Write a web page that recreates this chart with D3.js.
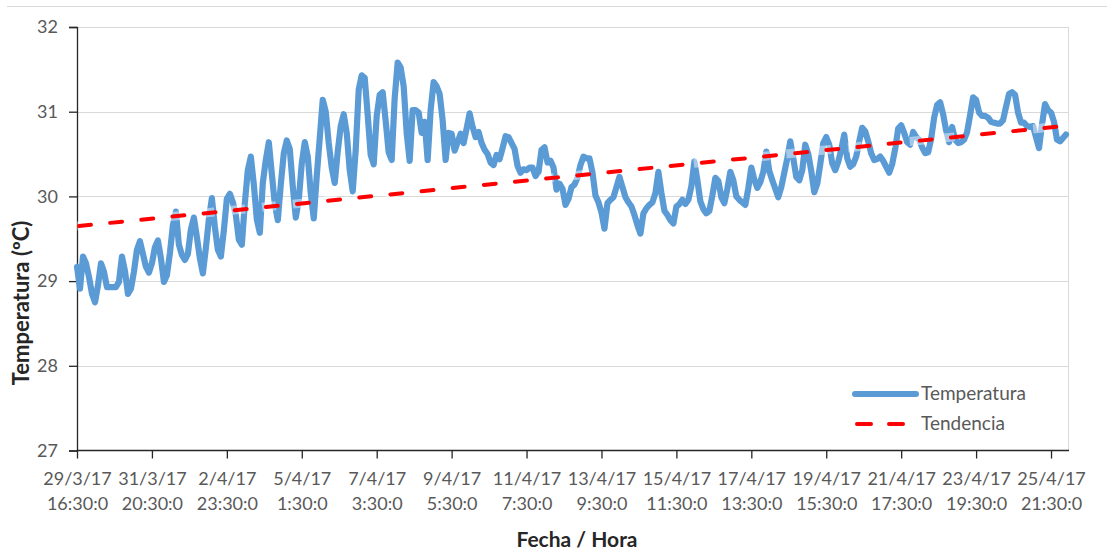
<!DOCTYPE html>
<html>
<head>
<meta charset="utf-8">
<script src="https://cdn.jsdelivr.net/npm/d3@7"></script>
<style>
  html, body { margin: 0; padding: 0; background: #fff; }
  svg { display: block; }
  text { font-family: Lato, "Open Sans", sans-serif; }
</style>
</head>
<body>
<svg id="chart" width="1107" height="552"></svg>
<script>
// Registered temperatures (ºC), one reading every step of the category axis
const temperatures = [
  29.17, 28.91, 29.29, 29.21, 29.05, 28.85, 28.75, 28.95, 29.21, 29.11,
  28.93, 28.93, 28.93, 28.93, 28.99, 29.29, 29.12, 28.85, 28.91, 29.11,
  29.37, 29.47, 29.32, 29.17, 29.10, 29.21, 29.40, 29.48, 29.27, 28.99,
  29.07, 29.33, 29.66, 29.82, 29.43, 29.31, 29.25, 29.32, 29.61, 29.75,
  29.52, 29.27, 29.09, 29.39, 29.73, 29.98, 29.64, 29.37, 29.29, 29.60,
  29.97, 30.03, 29.93, 29.78, 29.49, 29.43, 29.92, 30.31, 30.47, 30.14,
  29.73, 29.57, 30.16, 30.43, 30.64, 30.27, 29.91, 29.72, 30.14, 30.51,
  30.66, 30.56, 30.12, 29.75, 29.96, 30.39, 30.64, 30.47, 30.04, 29.74,
  30.24, 30.69, 31.14, 31.00, 30.63, 30.34, 30.16, 30.53, 30.83, 30.97,
  30.75, 30.31, 30.06, 30.55, 31.26, 31.43, 31.40, 30.96, 30.49, 30.38,
  30.95, 31.20, 31.23, 30.89, 30.52, 30.43, 31.16, 31.58, 31.52, 31.30,
  30.75, 30.42, 31.02, 31.02, 30.99, 30.75, 30.88, 30.43, 31.02, 31.35,
  31.30, 31.21, 30.90, 30.43, 30.75, 30.74, 30.54, 30.64, 30.74, 30.63,
  30.80, 30.98, 30.82, 30.70, 30.76, 30.63, 30.55, 30.50, 30.40, 30.37,
  30.49, 30.44, 30.57, 30.71, 30.70, 30.63, 30.56, 30.36, 30.28, 30.32,
  30.31, 30.34, 30.34, 30.24, 30.29, 30.55, 30.58, 30.40, 30.42, 30.34,
  30.08, 30.15, 30.09, 29.90, 29.97, 30.11, 30.14, 30.22, 30.37, 30.47,
  30.45, 30.45, 30.28, 30.01, 29.93, 29.81, 29.62, 29.92, 29.96, 29.99,
  30.11, 30.23, 30.11, 29.99, 29.93, 29.88, 29.78, 29.66, 29.56, 29.80,
  29.86, 29.90, 29.93, 30.04, 30.29, 30.04, 29.83, 29.78, 29.72, 29.68,
  29.88, 29.91, 29.96, 29.91, 29.96, 30.12, 30.41, 30.19, 29.94, 29.85,
  29.80, 29.83, 30.01, 30.22, 30.18, 29.99, 29.92, 30.09, 30.29, 30.19,
  30.00, 29.96, 29.93, 29.90, 30.10, 30.34, 30.20, 30.10, 30.17, 30.29,
  30.53, 30.30, 30.19, 30.09, 29.99, 30.11, 30.28, 30.45, 30.65, 30.45,
  30.23, 30.19, 30.31, 30.61, 30.50, 30.30, 30.05, 30.15, 30.38, 30.63,
  30.70, 30.61, 30.39, 30.31, 30.41, 30.55, 30.73, 30.45, 30.35, 30.38,
  30.47, 30.65, 30.81, 30.77, 30.65, 30.51, 30.43, 30.44, 30.47, 30.42,
  30.35, 30.28, 30.38, 30.56, 30.80, 30.84, 30.75, 30.64, 30.61, 30.76,
  30.70, 30.67, 30.58, 30.51, 30.52, 30.68, 30.93, 31.08, 31.11, 30.97,
  30.78, 30.64, 30.82, 30.67, 30.63, 30.64, 30.67, 30.76, 30.96, 31.17,
  31.14, 30.99, 30.95, 30.95, 30.93, 30.88, 30.87, 30.86, 30.86, 30.90,
  31.06, 31.21, 31.23, 31.20, 30.99, 30.87, 30.87, 30.83, 30.82, 30.83,
  30.70, 30.57, 30.85, 31.09, 31.02, 30.99, 30.88, 30.67, 30.65, 30.69,
  30.73
];

// Trend line (start and end values)
const trendValues = [29.65, 30.84];

// Category axis labels, one every `labelEvery` readings
const labelEvery = 25;
const tickDates = ["29/3/17", "31/3/17", "2/4/17", "5/4/17", "7/4/17", "9/4/17", "11/4/17",
                   "13/4/17", "15/4/17", "17/4/17", "19/4/17", "21/4/17", "23/4/17", "25/4/17"];
const tickTimes = ["16:30:0", "20:30:0", "23:30:0", "1:30:0", "3:30:0", "5:30:0", "7:30:0",
                   "9:30:0", "11:30:0", "13:30:0", "15:30:0", "17:30:0", "19:30:0", "21:30:0"];

const yTicks = [27, 28, 29, 30, 31, 32];
const seriesNames = ["Temperatura", "Tendencia"];

// ---- layout ----
const svg = d3.select("#chart");
const plot = { left: 77, right: 1069, top: 27, bottom: 450.5 };

const x = d3.scaleLinear().domain([0, temperatures.length]).range([plot.left, plot.right]);
const y = d3.scaleLinear().domain([27, 32]).range([plot.bottom, plot.top]);

const labelColor = "#595959";
const blue = "#5B9BD5";
const red = "#FF0000";

// outer chart border (top edge)
svg.append("line")
  .attr("x1", 7).attr("x2", 1107).attr("y1", 6.5).attr("y2", 6.5)
  .attr("stroke", "#D9D9D9").attr("stroke-width", 1);

// horizontal gridlines
svg.append("g")
  .selectAll("line")
  .data(yTicks.filter(d => d !== 27))
  .join("line")
  .attr("x1", plot.left).attr("x2", plot.right)
  .attr("y1", d => Math.round(y(d)) + 0.5).attr("y2", d => Math.round(y(d)) + 0.5)
  .attr("stroke", "#D9D9D9").attr("stroke-width", 1);

// right edge of plot area
svg.append("line")
  .attr("x1", plot.right - 0.5).attr("x2", plot.right - 0.5)
  .attr("y1", plot.top).attr("y2", plot.bottom)
  .attr("stroke", "#D9D9D9").attr("stroke-width", 1);

// y axis
const yAxis = d3.axisLeft(y).tickValues(yTicks).tickSize(8).tickPadding(11).tickFormat(d3.format("d"));
const gy = svg.append("g")
  .attr("transform", `translate(${plot.left},0)`)
  .call(yAxis);
gy.select(".domain").attr("stroke", "#262626").attr("stroke-width", 1.3);
gy.selectAll(".tick line").attr("stroke", "#262626").attr("stroke-width", 1.3);
gy.selectAll(".tick text")
  .attr("fill", labelColor)
  .style("font-size", "18px")
  .style("font-family", "Lato, sans-serif");

// x axis (category ticks every labelEvery readings)
const tickIdx = tickDates.map((_, i) => i * labelEvery);
const xAxis = d3.axisBottom(x).tickValues(tickIdx).tickSize(8).tickFormat(() => "");
const gx = svg.append("g")
  .attr("transform", `translate(0,${plot.bottom})`)
  .call(xAxis);
gx.select(".domain").attr("stroke", "#262626").attr("stroke-width", 1.3)
  .attr("d", `M${plot.left},0H${plot.right}`);
gx.selectAll(".tick line").attr("stroke", "#262626").attr("stroke-width", 1.3);
gx.selectAll(".tick").each(function(d, i) {
  const t = d3.select(this).append("text")
    .attr("fill", labelColor)
    .attr("text-anchor", "middle")
    .style("font-size", "18px")
    .style("font-family", "Lato, sans-serif");
  t.append("tspan").attr("x", 0).attr("y", 34).text(tickDates[i]);
  t.append("tspan").attr("x", 0).attr("y", 59).text(tickTimes[i]);
});

// temperature series
const line = d3.line()
  .x((d, i) => x(i))
  .y(d => y(d));

svg.append("path")
  .datum(temperatures)
  .attr("fill", "none")
  .attr("stroke", blue)
  .attr("stroke-width", 6.2)
  .attr("stroke-linejoin", "round")
  .attr("stroke-linecap", "round")
  .attr("d", line);

// linear trend
const trendIdx = [0, temperatures.length];
const trendLine = d3.line().x((d, i) => x(trendIdx[i])).y(d => y(d));
svg.append("path")
  .datum(trendValues)
  .attr("fill", "none")
  .attr("stroke", "#ffffff")
  .attr("stroke-opacity", 0.45)
  .attr("stroke-width", 9)
  .attr("stroke-dasharray", "14 17")
  .attr("d", trendLine);
svg.append("path")
  .datum(trendValues)
  .attr("fill", "none")
  .attr("stroke", red)
  .attr("stroke-width", 4)
  .attr("stroke-linecap", "round")
  .attr("stroke-dasharray", "12 19.3")
  .attr("transform", "translate(2,0)")
  .attr("d", trendLine);

// legend
const legend = svg.append("g");
legend.append("line")
  .attr("x1", 855).attr("x2", 916).attr("y1", 394).attr("y2", 394)
  .attr("stroke", blue).attr("stroke-width", 6).attr("stroke-linecap", "round");
legend.append("line")
  .attr("x1", 857).attr("x2", 905).attr("y1", 424).attr("y2", 424)
  .attr("stroke", red).attr("stroke-width", 4).attr("stroke-linecap", "round")
  .attr("stroke-dasharray", "14 18");
legend.selectAll("text.lg")
  .data(seriesNames)
  .join("text")
  .attr("class", "lg")
  .attr("x", 921)
  .attr("y", (d, i) => 400 + i * 30)
  .attr("fill", labelColor)
  .style("font-size", "19px")
  .text(d => d);

// axis titles
svg.append("text")
  .attr("transform", "translate(29,303) rotate(-90)")
  .attr("text-anchor", "middle")
  .attr("fill", "#262626")
  .style("font-size", "22px")
  .style("font-weight", "bold")
  .text("Temperatura (ºC)");

svg.append("text")
  .attr("x", 577)
  .attr("y", 547)
  .attr("text-anchor", "middle")
  .attr("fill", "#262626")
  .style("font-size", "21px")
  .style("font-weight", "bold")
  .text("Fecha / Hora");
</script>
</body>
</html>
